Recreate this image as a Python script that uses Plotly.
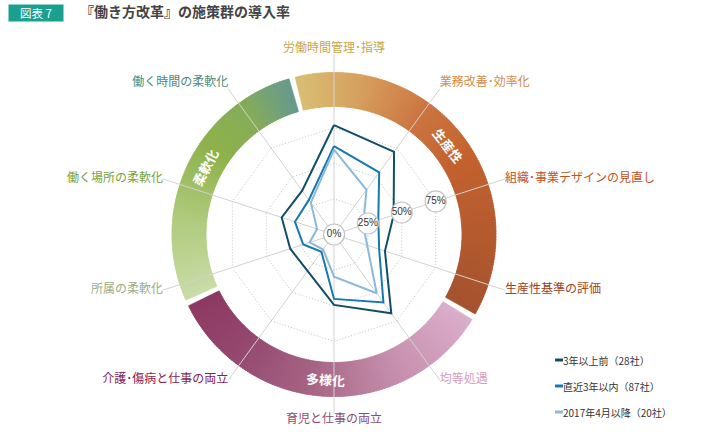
import numpy as np
import plotly.graph_objects as go

# ---------------- data ----------------
categories = ["労働時間管理･指導", "業務改善･効率化", "組織･事業デザインの見直し", "生産性基準の評価",
              "均等処遇", "育児と仕事の両立", "介護･傷病と仕事の両立", "所属の柔軟化",
              "働く場所の柔軟化", "働く時間の柔軟化"]
label_colors = ["#c9a548", "#d68a4c", "#c2521c", "#9c4119", "#d59cbb", "#8b4b70",
                "#8a1d4d", "#9bab80", "#78a13a", "#4b8a7b"]
series_names = ["3年以上前（28社）", "直近3年以内（87社）", "2017年4月以降（20社）"]
series_colors = ["#124d68", "#1878b2", "#8cb9da"]
s_old = [76.8, 71.7, 44.0, 37.6, 68.4, 49.4, 31.6, 32.3, 38.6, 38.0]
s_recent = [62.0, 53.9, 32.7, 33.3, 59.0, 45.2, 15.0, 22.7, 28.8, 30.0]
s_new = [59.5, 38.8, 21.5, 24.5, 51.0, 29.6, 13.0, 18.0, 12.5, 27.6]
tick_vals = [0, 25, 50, 75]
tick_text = ["0%", "25%", "50%", "75%"]

# ring groups: name, start angle, end angle (deg, clockwise from top), colour stops
groups = ["生産性", "多様化", "柔軟化"]
group_start = [-15.0, 120.5, 245.0]
group_end = [120.5, 245.0, 345.0]
group_stops = [
    [(0.0, "#d8bf74"), (0.18, "#d7a05f"), (0.38, "#cc7440"), (0.55, "#c4622f"), (1.0, "#a5532f")],
    [(0.0, "#dbaecb"), (0.3, "#c48dab"), (0.55, "#a66585"), (0.8, "#95486f"), (1.0, "#8d3a63")],
    [(0.0, "#cadca8"), (0.3, "#b0cb7e"), (0.6, "#8fb24b"), (0.8, "#86ad58"), (1.0, "#67998e")],
]
group_label_angle = [52.0, 183.5, 297.4]

# ---------------- geometry ----------------
W, H = 728, 438
CX, CY = 334.0, 234.5          # centre in px (from top-left)
RPX = 180.0                    # polar radius in px
PX_PER_PCT = 1.425
RMAX = RPX / PX_PER_PCT
RMIN = 0
RING_IN, RING_OUT = 128.0 / PX_PER_PCT, 162.0 / PX_PER_PCT
GAP = 1.1  # half gap in degrees

dom_x = [(CX - RPX) / W, (CX + RPX) / W]
dom_y = [(H - CY - RPX) / H, (H - CY + RPX) / H]


def hex2rgb(h):
    h = h.lstrip("#")
    return np.array([int(h[i:i + 2], 16) for i in (0, 2, 4)], dtype=float)


def interp_color(stops, t):
    for (t0, c0), (t1, c1) in zip(stops[:-1], stops[1:]):
        if t <= t1:
            f = 0 if t1 == t0 else (t - t0) / (t1 - t0)
            c = hex2rgb(c0) * (1 - f) + hex2rgb(c1) * f
            return "rgb(%d,%d,%d)" % tuple(np.round(c))
    c = hex2rgb(stops[-1][1])
    return "rgb(%d,%d,%d)" % tuple(c)


fig = go.Figure()

# ---------------- ring (polar) ----------------
for g, a0, a1, stops in zip(groups, group_start, group_end, group_stops):
    a0g, a1g = a0 + GAP, a1 - GAP
    n = int(np.ceil((a1g - a0g) / 1.0))
    edges = np.linspace(a0g, a1g, n + 1)
    centers = (edges[:-1] + edges[1:]) / 2
    widths = np.diff(edges)
    cols = [interp_color(stops, (c - a0g) / (a1g - a0g)) for c in centers]
    widths_ov = widths.copy()
    widths_ov[:-1] = widths[:-1] * 1.6
    centers_ov = centers.copy()
    centers_ov[:-1] = centers[:-1] + widths[:-1] * 0.3
    fig.add_trace(go.Barpolar(
        theta=centers_ov, r=[RING_OUT - RING_IN] * n, base=RING_IN, width=widths_ov,
        marker=dict(color=cols, line=dict(width=0.6, color=cols)), subplot="polar",
        hoverinfo="skip", showlegend=False))

# ---------------- radar (polar2) ----------------
for name, vals, col in zip(series_names, [s_old, s_recent, s_new], series_colors):
    fig.add_trace(go.Scatterpolar(
        r=vals + vals[:1], theta=categories + categories[:1], mode="lines",
        line=dict(color=col, width=2), name=name, subplot="polar2", showlegend=False))

# tick circles (tiny offset for 0 so plotly does not drop the centre point)
tick_r = [max(v, 0.05) for v in tick_vals]
fig.add_trace(go.Scatterpolar(
    r=tick_r, theta=[categories[2]] * len(tick_vals), mode="markers+text",
    text=tick_text, textposition="middle center", cliponaxis=False,
    textfont=dict(size=10, color="#333333", family="Arial, Liberation Sans"),
    marker=dict(size=21, color="white", line=dict(color="#c4c4c4", width=1.2)),
    subplot="polar2", showlegend=False, hoverinfo="skip"))

# category labels
positions = ["top center", "top right", "middle right", "middle right", "middle right",
             "bottom center", "middle left", "middle left", "middle left", "top left"]
fig.add_trace(go.Scatterpolar(
    r=[RMAX * 0.999] * len(categories), theta=categories, mode="text", text=categories,
    textposition=positions, cliponaxis=False,
    textfont=dict(size=12, color=label_colors, family="Noto Sans CJK JP"),
    subplot="polar2", showlegend=False, hoverinfo="skip"))

common_ang = dict(direction="clockwise", rotation=90)
fig.update_layout(
    width=W, height=H, margin=dict(l=0, r=0, t=0, b=0),
    paper_bgcolor="white", plot_bgcolor="white",
    font=dict(family="Noto Sans CJK JP"),
    polar=dict(domain=dict(x=dom_x, y=dom_y), bgcolor="rgba(0,0,0,0)", bargap=0,
               radialaxis=dict(range=[RMIN, RMAX], visible=False),
               angularaxis=dict(visible=False, thetaunit="degrees", **common_ang)),
    polar2=dict(domain=dict(x=dom_x, y=dom_y), bgcolor="rgba(0,0,0,0)", gridshape="linear",
                radialaxis=dict(range=[RMIN, RMAX], tickvals=[25, 50, 75], showticklabels=False,
                                ticks="", showline=False, gridcolor="#c4c4c4", griddash="1px,2px",
                                gridwidth=1),
                angularaxis=dict(showticklabels=False, ticks="", showline=False,
                                 gridcolor="#d2d2d2", gridwidth=1, **common_ang)),
)

# group labels on ring
for g, ang in zip(groups, group_label_angle):
    rad = np.deg2rad(ang)
    rr = (RING_IN + RING_OUT) / 2 * PX_PER_PCT
    px = CX + rr * np.sin(rad)
    py = CY - rr * np.cos(rad)
    if 90 <= ang < 270:
        ta = ang - 180
    elif ang >= 270:
        ta = ang - 360
    else:
        ta = ang
    fig.add_annotation(x=px / W, y=1 - py / H, xref="paper", yref="paper", text="<b>%s</b>" % g,
                       showarrow=False, textangle=ta, xanchor="center", yanchor="middle",
                       font=dict(size=13, color="white", family="Noto Sans CJK JP"))

# title
fig.add_annotation(x=8 / W, y=1 - 4 / H, xref="paper", yref="paper", xanchor="left", yanchor="top",
                   text="図表 7", showarrow=False, bgcolor="#19a08e", width=52, height=14,
                   borderpad=1, font=dict(size=11.5, color="white", family="Noto Sans CJK JP"))
fig.add_annotation(x=78 / W, y=1 - 11.5 / H, xref="paper", yref="paper", xanchor="left",
                   yanchor="middle", text="<b>『働き方改革』の施策群の導入率</b>", showarrow=False,
                   font=dict(size=14, color="#444444", family="Noto Sans CJK JP"))

# legend
leg_y = [360, 386, 412]
for name, col, yy in zip(series_names, series_colors, leg_y):
    fig.add_shape(type="line", xref="paper", yref="paper", x0=555 / W, x1=563 / W,
                  y0=1 - yy / H, y1=1 - yy / H, line=dict(color=col, width=3))
    fig.add_annotation(x=561 / W, y=1 - yy / H, xref="paper", yref="paper", xanchor="left",
                       yanchor="middle", text=name, showarrow=False,
                       font=dict(size=10, color="#333333", family="Noto Sans CJK JP"))

fig.write_html("out.html")
